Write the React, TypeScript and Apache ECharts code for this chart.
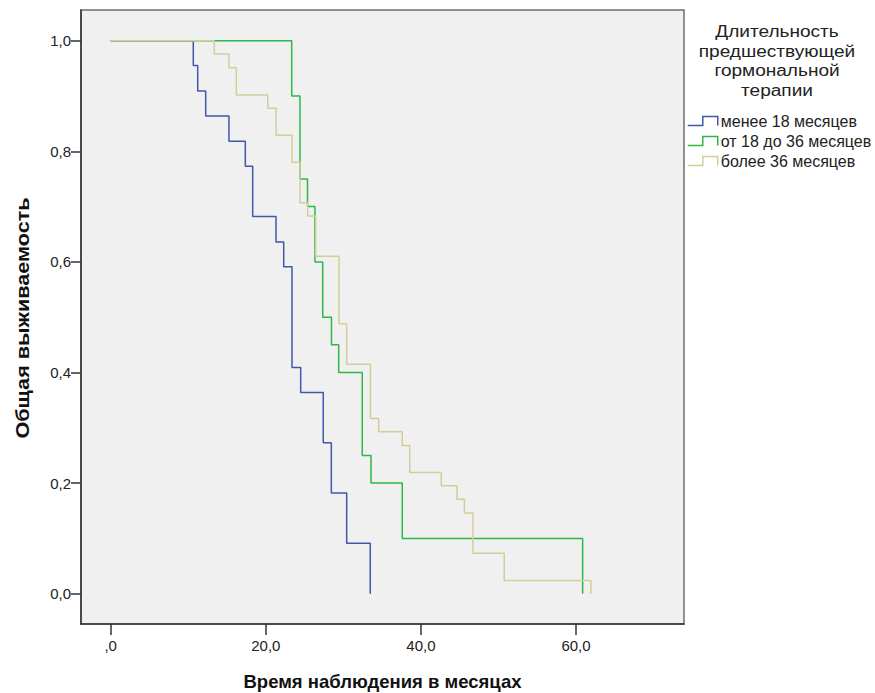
import React, { useEffect, useRef } from "react";
import * as echarts from "echarts";

const seriesNames = ["менее 18 месяцев", "от 18 до 36 месяцев", "более 36 месяцев"];
const seriesColors = ["#3E58AC", "#2EB848", "#D3CE97"];

const blueTimes = [0, 10.65, 11.22, 12.25, 15.25, 17.36, 18.31, 21.32, 22.31, 23.38, 24.5, 27.41, 28.45, 30.43, 33.47];
const blueSurv = [1, 0.955, 0.909, 0.864, 0.818, 0.773, 0.682, 0.636, 0.591, 0.409, 0.364, 0.273, 0.182, 0.091, 0];

const greenTimes = [0, 23.34, 24.41, 25.38, 26.34, 27.34, 28.47, 29.4, 32.44, 33.57, 37.6, 60.86];
const greenSurv = [1, 0.9, 0.75, 0.7, 0.6, 0.5, 0.45, 0.4, 0.25, 0.2, 0.1, 0];

const yellowTimes = [0, 13.36, 15.25, 16.2, 20.25, 21.32, 23.38, 24.41, 25.4, 26.43, 29.44, 30.43, 33.5, 34.56, 37.6, 38.56, 42.63, 44.66, 45.6, 46.72, 50.75, 61.93];
const yellowSurv = [1, 0.976, 0.951, 0.902, 0.878, 0.829, 0.78, 0.707, 0.683, 0.61, 0.488, 0.415, 0.317, 0.293, 0.268, 0.219, 0.195, 0.171, 0.146, 0.073, 0.024, 0];

const xTicks = [0, 20, 40, 60];
const yTicks = [0, 0.2, 0.4, 0.6, 0.8, 1.0];

const xTitle = "Время наблюдения в месяцах";
const yTitle = "Общая выживаемость";
const legendTitle = "Длительность\nпредшествующей\nгормональной\nтерапии";

const FONT = "'Liberation Sans', Arial, sans-serif";

const fmt = (v: number, dropZero: boolean) => {
  const s = v.toFixed(1).replace(".", ",");
  return dropZero && v === 0 ? ",0" : s;
};

export default function App() {
  const ref = useRef<HTMLDivElement>(null);
  useEffect(() => {
    if (!ref.current) return;
    const chart = echarts.init(ref.current, undefined, { renderer: "svg" });
    const curves = [
      [blueTimes, blueSurv],
      [greenTimes, greenSurv],
      [yellowTimes, yellowSurv],
    ];
    const option: any = {
      animation: false,
      backgroundColor: "#ffffff",
      textStyle: { fontFamily: FONT },
      grid: {
        left: 81,
        top: 10,
        right: 191,
        bottom: 69,
        containLabel: false,
        outerBoundsMode: "none",
        show: true,
        backgroundColor: "#F0F0F0",
        borderColor: "#6e6e6e",
        borderWidth: 1.5,
      },
      xAxis: {
        type: "value",
        min: -3.83,
        max: 73.93,
        splitLine: { show: false },
        axisLine: { show: true, onZero: false, lineStyle: { color: "#333", width: 1.5 } },
        axisTick: { show: true, length: 11, customValues: xTicks, lineStyle: { color: "#333", width: 1.5 } },
        axisLabel: {
          customValues: xTicks,
          formatter: (v: number) => fmt(v, true),
          fontSize: 15,
          color: "#222",
          margin: 14,
          fontFamily: FONT,
        },
        name: xTitle,
        nameLocation: "middle",
        nameGap: 48,
        nameTextStyle: { fontSize: 18.5, fontWeight: "bold", color: "#111", fontFamily: FONT },
      },
      yAxis: {
        type: "value",
        min: -0.0548,
        max: 1.0555,
        splitLine: { show: false },
        axisLine: { show: true, onZero: false, lineStyle: { color: "#333", width: 1.5 } },
        axisTick: { show: true, length: 10, customValues: yTicks, lineStyle: { color: "#333", width: 1.5 } },
        axisLabel: {
          customValues: yTicks,
          formatter: (v: number) => fmt(v, false),
          fontSize: 15,
          color: "#222",
          margin: 10,
          fontFamily: FONT,
        },
      },
      legend: {
        orient: "vertical",
        left: 687,
        top: 113,
        padding: 0,
        itemGap: 4,
        itemWidth: 30,
        itemHeight: 9,
        data: seriesNames.map((n, i) => ({
          name: n,
          icon: "path://M0,9 L15,9 L15,0 L30,0 L30,9",
          itemStyle: { color: "rgba(0,0,0,0)", borderColor: seriesColors[i], borderWidth: 1.5 },
        })),
        textStyle: { fontSize: 16, color: "#222", fontFamily: FONT, lineHeight: 16, padding: [0, 0, 0, -2] },
      },
      graphic: [
        {
          type: "text",
          x: 777,
          y: 22,
          scaleX: 1.19,
          style: {
            text: legendTitle,
            fontSize: 16,
            lineHeight: 19.5,
            fill: "#222",
            align: "center",
            verticalAlign: "top",
            fontFamily: FONT,
          },
        },
        {
          type: "text",
          x: 23,
          y: 318,
          rotation: Math.PI / 2,
          scaleX: 1.17,
          style: {
            text: yTitle,
            fontSize: 18.5,
            fontWeight: "bold",
            fill: "#111",
            align: "center",
            verticalAlign: "middle",
            fontFamily: FONT,
          },
        },
      ],
      series: curves.map((c, i) => ({
        name: seriesNames[i],
        type: "line",
        step: "end",
        showSymbol: false,
        symbol: "none",
        data: c[0].map((t, j) => [t, c[1][j]]),
        lineStyle: { width: 1.5, color: seriesColors[i] },
        itemStyle: { color: seriesColors[i] },
      })),
    };
    chart.setOption(option);
    return () => chart.dispose();
  }, []);
  return <div ref={ref} style={{ position: "absolute", left: 0, top: 0, width: 875, height: 693 }} />;
}
